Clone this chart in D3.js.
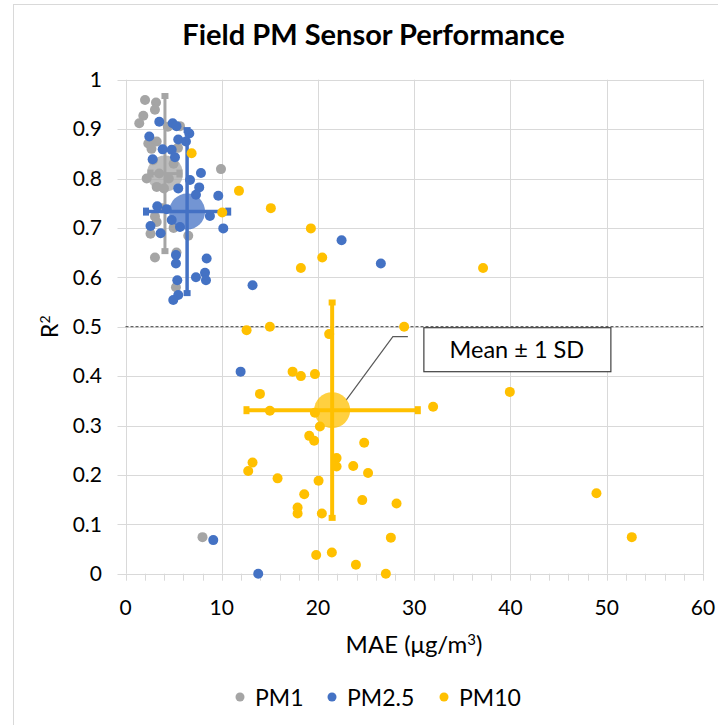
<!DOCTYPE html>
<html>
<head>
<meta charset="utf-8">
<script src="https://cdn.jsdelivr.net/npm/d3@7"></script>
<style>
  body { margin: 0; background: #fff; }
  svg text { font-family: Lato, "Open Sans", sans-serif; fill: #000; }
</style>
</head>
<body>
<div id="chart"></div>
<script>
// field PM sensor performance: R2 vs MAE per sensor
const pm1 = [
  [2.03,0.959],[3.17,0.954],[3.06,0.939],[1.85,0.927],[1.43,0.912],[5.66,0.906],
  [4.4,0.905],[2.37,0.871],[3.24,0.875],[5.45,0.862],[2.7,0.86],[2.86,0.837],
  [5.0,0.83],[3.5,0.81],[2.2,0.80],[4.5,0.80],[9.92,0.819],[4.0,0.78],[3.24,0.783],
  [3.8,0.74],[3.06,0.723],[3.24,0.712],[5.0,0.70],[2.6,0.688],[6.52,0.684],
  [3.06,0.640],[5.3,0.650],[5.24,0.580],[8.0,0.074]
];
const pm25 = [
  [3.51,0.915],[4.9,0.912],[5.3,0.906],[6.63,0.891],[2.47,0.885],[5.48,0.879],
  [6.28,0.875],[3.86,0.859],[4.8,0.858],[2.82,0.839],[5.14,0.843],[7.84,0.811],
  [6.7,0.797],[5.48,0.780],[7.66,0.782],[7.32,0.767],[9.64,0.765],[3.3,0.744],
  [4.28,0.738],[8.77,0.724],[4.8,0.716],[2.6,0.704],[5.66,0.702],[10.16,0.699],
  [3.65,0.689],[5.24,0.645],[5.24,0.628],[8.43,0.638],[8.26,0.609],[8.36,0.594],
  [7.32,0.600],[5.38,0.594],[5.48,0.564],[4.96,0.554],[13.2,0.584],[22.45,0.675],
  [26.53,0.628],[11.96,0.409],[9.12,0.068],[13.79,0.0]
];
const pm10 = [
  [6.87,0.851],[11.79,0.775],[10.05,0.731],[15.1,0.74],[19.26,0.699],[20.44,0.64],
  [18.22,0.619],[37.15,0.619],[12.58,0.493],[15.0,0.5],[21.16,0.485],[28.95,0.5],
  [17.36,0.409],[18.22,0.4],[19.68,0.404],[39.93,0.368],[31.96,0.338],[13.97,0.364],
  [15.0,0.33],[19.68,0.326],[20.2,0.298],[19.09,0.279],[19.6,0.269],[24.8,0.265],
  [21.93,0.234],[21.93,0.217],[23.66,0.218],[25.2,0.204],[13.2,0.225],[12.75,0.208],
  [15.8,0.193],[20.06,0.188],[18.57,0.161],[24.6,0.149],[28.16,0.142],[17.88,0.134],
  [17.88,0.122],[20.4,0.122],[48.93,0.163],[27.57,0.073],[52.6,0.074],[19.81,0.038],
  [21.44,0.043],[23.94,0.018],[27.05,0.0]
];
// mean and 1 SD of each group: [meanX, meanY, sdX, sdY]
const pm1Mean = [4.1, 0.81, 1.5, 0.157];
const pm25Mean = [6.4, 0.733, 4.27, 0.165];
const pm10Mean = [21.47, 0.331, 8.9, 0.218];

const seriesNames = ["PM1", "PM2.5", "PM10"];
const colors = ["#a5a5a5", "#4472c4", "#ffc000"];
const xTicks = [0, 10, 20, 30, 40, 50, 60];
const yTicks = [0, 0.1, 0.2, 0.3, 0.4, 0.5, 0.6, 0.7, 0.8, 0.9, 1];

const W = 718, H = 725;
const x = d3.scaleLinear().domain([0, 60]).range([125.5, 703]);
const y = d3.scaleLinear().domain([0, 1]).range([573.7, 79.7]);

const svg = d3.select("#chart").append("svg")
  .attr("width", W).attr("height", H);

// chart frame (only top/left edges visible)
svg.append("rect")
  .attr("x", 13.5).attr("y", 4.5)
  .attr("width", 720).attr("height", 740)
  .attr("fill", "none").attr("stroke", "#d9d9d9");

svg.append("text")
  .attr("x", 373.5).attr("y", 45)
  .attr("text-anchor", "middle")
  .attr("font-size", 29).attr("font-weight", "bold")
  .text("Field PM Sensor Performance");

// gridlines
const grid = svg.append("g").attr("stroke", "#d9d9d9").attr("stroke-width", 1);
grid.selectAll(".hy").data(yTicks).join("line")
  .attr("x1", x(0) - 8).attr("x2", x(60))
  .attr("y1", d => Math.round(y(d)) + 0.5).attr("y2", d => Math.round(y(d)) + 0.5);
grid.selectAll(".vx").data(xTicks).join("line")
  .attr("y1", y(1)).attr("y2", y(0))
  .attr("x1", d => Math.round(x(d)) + 0.5).attr("x2", d => Math.round(x(d)) + 0.5);
// minor ticks on x axis
grid.selectAll(".mt").data(d3.range(0, 61, 2)).join("line")
  .attr("y1", y(0)).attr("y2", y(0) + 7)
  .attr("x1", d => Math.round(x(d)) + 0.5).attr("x2", d => Math.round(x(d)) + 0.5);

svg.append("g").selectAll("text").data(yTicks).join("text")
  .attr("x", 102).attr("y", d => y(d)).attr("dy", "0.35em")
  .attr("text-anchor", "end").attr("font-size", 21)
  .text(d => d3.format("~g")(d));
svg.append("g").selectAll("text").data(xTicks).join("text")
  .attr("x", d => x(d)).attr("y", 615)
  .attr("text-anchor", "middle").attr("font-size", 21)
  .text(d => d);

svg.append("text")
  .attr("x", 414).attr("y", 653)
  .attr("text-anchor", "middle").attr("font-size", 24)
  .html("MAE (μg/m<tspan dy='-8' font-size='15'>3</tspan><tspan dy='8'>)</tspan>");
svg.append("text")
  .attr("transform", `translate(58,${y(0.5)}) rotate(-90)`)
  .attr("text-anchor", "middle").attr("font-size", 23)
  .html("R<tspan dy='-8' font-size='14'>2</tspan>");

// 0.5 reference line
svg.append("line")
  .attr("x1", x(0)).attr("x2", x(60))
  .attr("y1", y(0.5)).attr("y2", y(0.5))
  .attr("stroke", "#404040").attr("stroke-dasharray", "3,2");

// leader + annotation box
const box = { x: x(31), y: y(0.5) + 1 };
svg.append("polyline")
  .attr("points", [[box.x - 16, box.y + 9], [box.x - 31, box.y + 9], [x(pm10Mean[0]) + 14, y(pm10Mean[1]) - 10]].join(" "))
  .attr("fill", "none").attr("stroke", "#595959").attr("stroke-width", 1.2);

const allSeries = [pm1, pm25, pm10];
const means = [pm1Mean, pm25Mean, pm10Mean];
const barW = [3, 3.5, 4];

allSeries.forEach((pts, i) => {
  const g = svg.append("g");
  g.selectAll("circle").data(pts).join("circle")
    .attr("cx", d => x(d[0])).attr("cy", d => y(d[1]))
    .attr("r", 5).attr("fill", colors[i]);

  const m = means[i];
  const eb = svg.append("g").attr("stroke", colors[i]).attr("stroke-width", barW[i]);
  eb.append("line")
    .attr("x1", x(m[0] - m[2])).attr("x2", x(m[0] + m[2]))
    .attr("y1", y(m[1])).attr("y2", y(m[1]));
  eb.append("line")
    .attr("x1", x(m[0])).attr("x2", x(m[0]))
    .attr("y1", y(m[1] - m[3])).attr("y2", y(m[1] + m[3]));
  const caps = [[m[0] - m[2], m[1], "v"], [m[0] + m[2], m[1], "v"], [m[0], m[1] - m[3], "h"], [m[0], m[1] + m[3], "h"]];
  svg.append("g").selectAll("rect").data(caps).join("rect")
    .attr("x", d => x(d[0]) - (d[2] === "v" ? 3 : 3.5))
    .attr("y", d => y(d[1]) - (d[2] === "v" ? 4 : 3))
    .attr("width", d => d[2] === "v" ? 6 : 7)
    .attr("height", d => d[2] === "v" ? 8 : 6)
    .attr("fill", colors[i]);
  svg.append("circle")
    .attr("cx", x(m[0])).attr("cy", y(m[1]))
    .attr("r", 18).attr("fill", colors[i]).attr("fill-opacity", 0.75);
});

svg.append("rect")
  .attr("x", box.x).attr("y", box.y)
  .attr("width", 187).attr("height", 44)
  .attr("fill", "#fff").attr("stroke", "#404040").attr("stroke-width", 1.2);
svg.append("text")
  .attr("x", box.x + 93).attr("y", box.y + 30)
  .attr("text-anchor", "middle").attr("font-size", 23.5)
  .text("Mean \u00b1 1 SD");

// legend
const lg = svg.append("g").selectAll("g").data(seriesNames).join("g")
  .attr("transform", (d, i) => `translate(${[240, 332, 444][i]},697)`);
lg.append("circle").attr("r", 4.5).attr("fill", (d, i) => colors[i]);
lg.append("text").attr("x", 15).attr("y", 8.5).attr("font-size", 23).text(d => d);
</script>
</body>
</html>
